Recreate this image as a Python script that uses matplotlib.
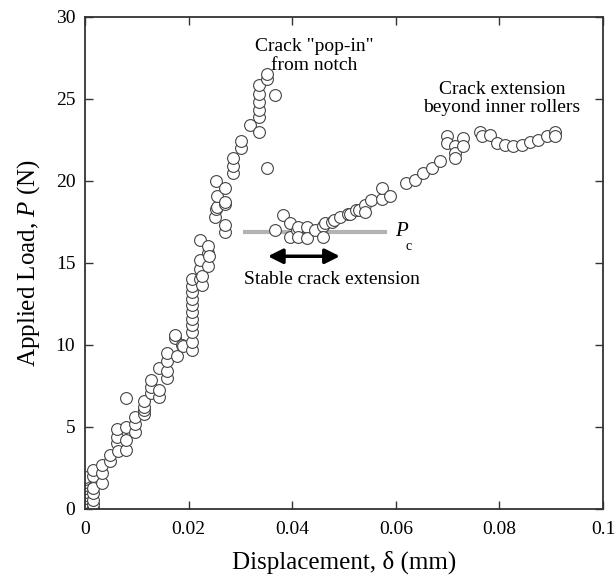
import matplotlib.pyplot as plt

plt.rcParams['font.family'] = ['Liberation Serif', 'DejaVu Serif']
plt.rcParams['mathtext.fontset'] = 'custom'
plt.rcParams['mathtext.rm'] = 'Liberation Serif'
plt.rcParams['mathtext.it'] = 'Liberation Serif:italic'

# deslocamento (mm) e carga (N)
disp = [0, 0, 0, 0, 0, 0, 0, 0, 0, 0, 0,
        0.0016, 0.0016, 0.0016, 0.0016, 0.0016, 0.0016, 0.0016,
        0.0032, 0.0032, 0.0032, 0.0048, 0.0048,
        0.0062, 0.0062, 0.0062, 0.0064, 0.008, 0.008, 0.008, 0.008,
        0.0097, 0.0097, 0.0097, 0.0113, 0.0113, 0.0113, 0.0113,
        0.0127, 0.0127, 0.0127, 0.0143, 0.0143, 0.0143,
        0.0159, 0.0159, 0.0159, 0.0159, 0.0174, 0.0174, 0.0177, 0.0187,
        0.019, 0.0206, 0.0206, 0.0207, 0.0207, 0.0207, 0.0207, 0.0207,
        0.0207, 0.0207, 0.0207, 0.0207,
        0.0222, 0.0222, 0.0222, 0.0222, 0.0225, 0.0225, 0.0238, 0.0238,
        0.0238, 0.024, 0.0251, 0.0253, 0.0253, 0.0254, 0.0254,
        0.027, 0.027, 0.027, 0.027, 0.027,
        0.0285, 0.0285, 0.0285, 0.0302, 0.0302, 0.0319,
        0.0335, 0.0335, 0.0335, 0.0335, 0.0335, 0.0335,
        0.0351, 0.0351, 0.0351, 0.0367,
        0.0367, 0.0382, 0.0396, 0.0396, 0.041, 0.0412, 0.0412, 0.0428,
        0.0429, 0.0444, 0.046, 0.046, 0.0463, 0.0476, 0.048, 0.0492,
        0.0508, 0.0512, 0.0523, 0.0528, 0.054, 0.054, 0.0553, 0.0573,
        0.0573, 0.0588, 0.062, 0.0637, 0.0653, 0.067, 0.0685,
        0.0698, 0.0698, 0.0714, 0.0714, 0.0714, 0.073, 0.073,
        0.0763, 0.0766, 0.0782, 0.0795, 0.0811, 0.0827, 0.0843,
        0.0859, 0.0875, 0.0891, 0.0907, 0.0907]
load = [0.05, 0.25, 0.45, 0.65, 0.85, 1.05, 1.25, 1.45, 1.65, 1.8, 1.97,
        0.05, 0.3, 0.55, 0.96, 1.3, 2.0, 2.38,
        1.57, 2.18, 2.68, 2.9, 3.3,
        4.0, 4.4, 4.9, 3.5, 3.6, 4.2, 5.0, 6.75,
        4.7, 5.2, 5.6, 5.8, 6.0, 6.2, 6.6,
        7.05, 7.45, 7.85, 6.8, 7.25, 8.6,
        8.0, 8.4, 9.0, 9.5, 10.4, 10.6, 9.3, 10.0,
        9.9, 9.7, 10.2, 10.8, 11.2, 11.6, 12.0, 12.4,
        12.8, 13.2, 13.6, 14.0,
        14.0, 14.6, 15.2, 16.4, 13.65, 14.2, 14.8, 15.6,
        16.0, 15.4, 17.8, 18.3, 19.96, 18.4, 19.1,
        16.9, 17.3, 18.6, 18.7, 19.55,
        20.5, 20.9, 21.4, 22.0, 22.4, 23.4,
        23.0, 23.9, 24.3, 24.8, 25.3, 25.85,
        20.8, 26.2, 26.5, 25.2,
        17.0, 17.9, 17.4, 16.6, 17.0, 17.2, 16.6, 17.2,
        16.5, 17.0, 17.25, 16.6, 17.4, 17.5, 17.6, 17.8,
        18.0, 18.0, 18.2, 18.2, 18.5, 18.1, 18.8, 18.9,
        19.55, 19.05, 19.85, 20.06, 20.5, 20.8, 21.2,
        22.7, 22.3, 22.1, 21.7, 21.4, 22.6, 22.1,
        23.0, 22.7, 22.8, 22.3, 22.2, 22.1, 22.2,
        22.35, 22.5, 22.7, 23.0, 22.7]

pc = 16.9
pc_range = [0.0309, 0.0579]
stable = [0.0353, 0.0492]

fig = plt.figure(figsize=(6.16, 5.77), dpi=100)
ax = fig.add_axes([0.138, 0.118, 0.841, 0.853])

ax.plot(pc_range, [pc, pc], color='#b3b3b3', lw=3, zorder=1)
ax.plot(disp, load, 'o', ms=8.5, mfc='white', mec='#444444', mew=0.8, zorder=2)

ax.annotate('', xy=(stable[0], 15.4), xytext=(stable[1], 15.4),
            arrowprops=dict(arrowstyle='<|-|>', color='black', lw=2.5,
                            mutation_scale=22, shrinkA=0, shrinkB=0))

ax.text(0.0442, 27.6, 'Crack "pop-in"\nfrom notch', ha='center', va='center',
        fontsize=14, linespacing=1.1)
ax.text(0.0805, 25.0, 'Crack extension\nbeyond inner rollers', ha='center',
        va='center', fontsize=14, linespacing=1.1)
ax.text(0.0476, 14.0, 'Stable crack extension', ha='center', va='center',
        fontsize=14)
ax.text(0.0598, 16.9, 'P', style='italic', ha='left', va='center', fontsize=15)
ax.text(0.0618, 16.0, 'c', ha='left', va='center', fontsize=10)

ax.set_xlim(0, 0.1)
ax.set_ylim(0, 30)
ax.set_xticks([0, 0.02, 0.04, 0.06, 0.08, 0.1])
ax.set_xticklabels(['0', '0.02', '0.04', '0.06', '0.08', '0.1'])
ax.set_yticks([0, 5, 10, 15, 20, 25, 30])
ax.tick_params(direction='in', top=True, right=True, length=6, width=1,
               labelsize=14, colors='#333333', labelcolor='black')
ax.tick_params(axis='x', pad=9)
ax.tick_params(axis='y', pad=7)
for s in ax.spines.values():
    s.set_linewidth(1.3)
    s.set_color('#333333')

ax.set_xlabel('Displacement, δ (mm)', fontsize=18, labelpad=9)
ax.set_ylabel('Applied Load, $P$ (N)', fontsize=18, labelpad=10)

fig.savefig('out.png', dpi=100)
